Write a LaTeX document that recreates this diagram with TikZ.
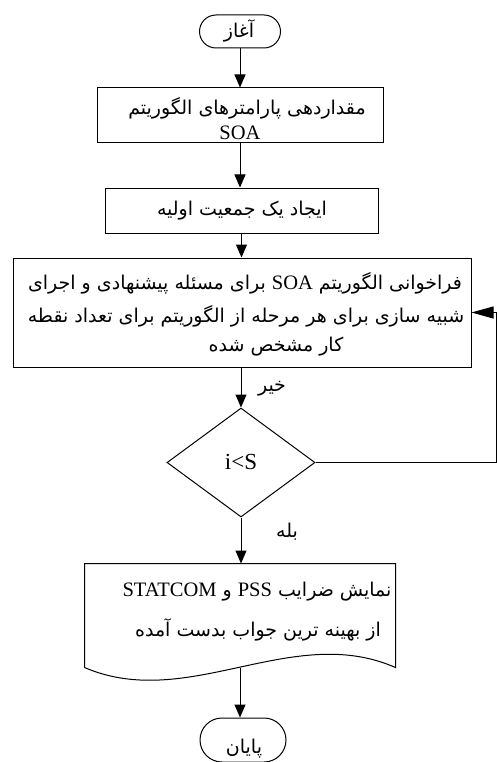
\documentclass[tikz,border=0pt]{standalone}
\usepackage{fontspec}
\setmainfont{Liberation Serif}
\newfontfamily\fa[Script=Arabic]{DejaVu Sans}
\TeXXeTstate=1
\usetikzlibrary{arrows.meta,shapes.geometric,shapes.misc}
\newcommand\fatext[1]{{\fa\beginR #1\endR}}
\newcommand\lat[1]{{\rmfamily\fontsize{20.5}{22}\selectfont\beginL #1\endL}}
\begin{document}
\begin{tikzpicture}[x=1pt,y=-1pt,
  line width=1pt,
  procbox/.style={draw, rectangle, inner sep=0pt},
  termbox/.style={draw, rounded rectangle, inner sep=0pt},
  decbox/.style={draw, diamond, inner sep=0pt},
  txt/.style={inner sep=0pt, font=\fontsize{19}{22}\selectfont},
  lattxt/.style={inner sep=0pt, font=\fontsize{20.5}{22}\selectfont},
  arr/.style={-{Triangle[length=13pt,width=11pt]}},
  sidearr/.style={-{Triangle[length=22pt,width=12pt]}}
]
\useasboundingbox (0,0) rectangle (497,762);

% shapes
\node[termbox, minimum width=81pt, minimum height=33pt] (start) at (240,31.5) {};
\node[procbox, minimum width=286pt, minimum height=55pt] (b1) at (240,115.5) {};
\node[procbox, minimum width=273pt, minimum height=45pt] (b2) at (241.5,210.5) {};
\node[procbox, minimum width=458pt, minimum height=109pt] (b3) at (242,312.5) {};
\node[decbox, minimum width=148pt, minimum height=109pt, aspect=1.36] (dec) at (241,462.5) {};
\node[inner sep=0pt, minimum width=310pt, minimum height=103pt] (doc) at (240,615.5) {};
\draw (doc.south west) -- (doc.north west) -- (doc.north east) -- (doc.south east)
  .. controls (292,622) and (188,712) .. (doc.south west);
\node[termbox, minimum width=86pt, minimum height=44pt] (stop) at (243,740) {};

% texts
\node[txt] (t0) at (239,31) {\fatext{آغاز}};
\node[txt] (t1a) at (247,108) {\fatext{مقداردهی پارامترهای الگوریتم}};
\node[lattxt] (t1b) at (240,133) {SOA};
\node[txt] (t2) at (242,211) {\fatext{ایجاد یک جمعیت اولیه}};
\node[txt] (t3a) at (245,283) {\fatext{فراخوانی الگوریتم \lat{SOA} برای مسئله پیشنهادی و اجرای}};
\node[txt] (t3b) at (246,316) {\fatext{شبیه سازی برای هر مرحله از الگوریتم برای تعداد نقطه}};
\node[txt] (t3c) at (276,347) {\fatext{کار مشخص شده}};
\node[lattxt, font=\fontsize{23}{25}\selectfont] (td) at (241,462) {i<S};
\node[txt] (tno) at (272,389) {\fatext{خیر}};
\node[txt] (tyes) at (287,532) {\fatext{بله}};
\node[txt] (t4a) at (257,592) {\fatext{نمایش ضرایب \lat{PSS} و \lat{STATCOM}}};
\node[txt] (t4b) at (258,630) {\fatext{از بهینه ترین جواب بدست آمده}};
\node[txt] (t5) at (244,749) {\fatext{پایان}};

% connectors
\coordinate (rx) at (496,312.5);
\draw[arr] (start.south) -- (start.south |- b1.north);
\draw[arr] (b1.south) -- (b1.south |- b2.north);
\draw[arr] (b2.south) -- (b2.south |- b3.north);
\draw[arr] (b3.south -| dec.north) -- (dec.north);
\draw[arr] (dec.south) -- (dec.south |- doc.north);
\draw[arr] (doc.south) -- (doc.south |- stop.north);
\draw[sidearr] (dec.east) -| (rx) -- (b3.east);
\end{tikzpicture}
\end{document}
